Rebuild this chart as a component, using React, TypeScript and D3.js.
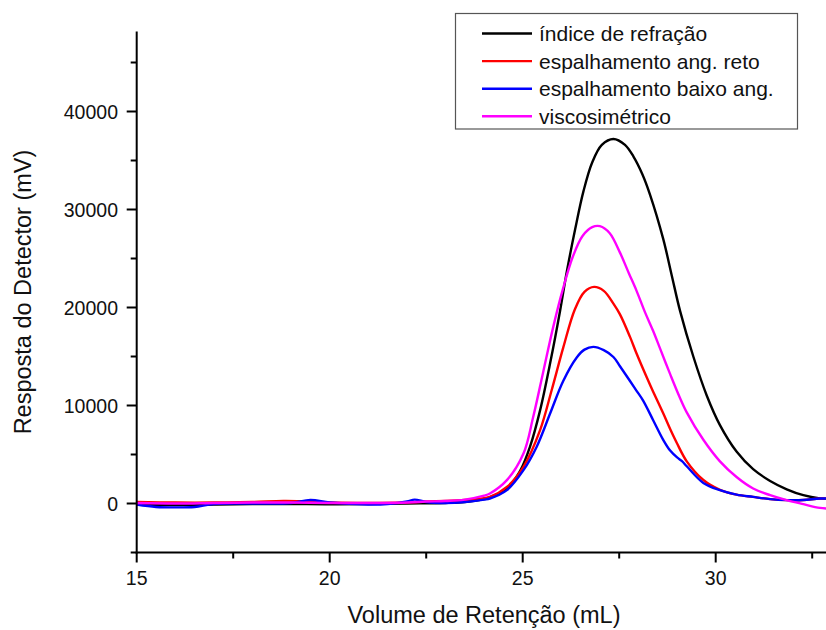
import React from "react";
import * as d3 from "d3";

const xMajorTicks = [15, 20, 25, 30];
const xMinorTicks = [17.5, 22.5, 27.5, 32.5];
const yMajorTicks = [0, 10000, 20000, 30000, 40000];
const yMinorTicks = [-5000, 5000, 15000, 25000, 35000, 45000];

const seriesNames = ["índice de refração", "espalhamento ang. reto", "espalhamento baixo ang.", "viscosimétrico"];
const seriesColors = ["#000000", "#ff0000", "#0000ff", "#ff00ff"];

const riX = [15, 16, 17, 18, 19, 20, 21, 22, 23, 23.5, 24, 24.15, 24.59, 24.93, 25.19, 25.45, 25.71, 25.97, 26.14, 26.36, 26.57, 26.8, 27.05, 27.35, 27.65, 27.87, 28.1, 28.3, 28.64, 28.86, 29.08, 29.42, 29.77, 30.11, 30.54, 30.97, 31.41, 31.84, 32.27, 32.7, 33];
const riY = [-100, -150, -100, -50, -50, -80, -50, 0, 50, 150, 450, 650, 1500, 3300, 5800, 9500, 14300, 19700, 23600, 28000, 31800, 34800, 36600, 37200, 36600, 35400, 33600, 31500, 27000, 23300, 19600, 15000, 11000, 8000, 5300, 3500, 2300, 1450, 850, 520, 450];

const raX = [15, 16, 17, 18, 18.8, 19.5, 20, 21, 22, 22.5, 23, 23.5, 24, 24.15, 24.59, 25.02, 25.45, 25.75, 26.05, 26.35, 26.6, 26.85, 27.1, 27.35, 27.52, 27.78, 27.95, 28.21, 28.38, 28.64, 28.82, 28.99, 29.25, 29.68, 30.11, 30.54, 30.97, 31.41, 31.84, 32.27, 32.7, 33];
const raY = [150, 100, 100, 150, 250, 200, 100, 50, 100, 200, 250, 350, 550, 670, 1690, 3735, 7480, 11560, 15900, 19800, 21600, 22100, 21700, 20400, 19300, 17000, 15300, 12900, 11400, 9200, 7600, 6200, 4300, 2400, 1400, 900, 670, 450, 340, 350, 510, 500];

const lbX = [15, 15.5, 16, 16.5, 17, 18, 19, 19.5, 20, 21, 21.5, 22, 22.2, 22.5, 23, 23.5, 24, 24.15, 24.59, 25.02, 25.36, 25.71, 26.05, 26.4, 26.6, 26.83, 27.1, 27.35, 27.52, 27.78, 27.95, 28.12, 28.38, 28.64, 28.82, 29.0, 29.12, 29.25, 29.68, 30.11, 30.54, 30.97, 31.41, 31.84, 32.27, 32.7, 33];
const lbY = [-100, -350, -400, -350, -50, 0, 50, 350, 100, -100, -50, 200, 400, 150, 50, 150, 400, 510, 1360, 3400, 5775, 9180, 12500, 14900, 15700, 15980, 15650, 14950, 14000, 12500, 11500, 10500, 8500, 6500, 5400, 4700, 4350, 3800, 2100, 1360, 900, 670, 450, 340, 350, 510, 500];

const vsX = [15, 16, 17, 18, 19, 20, 21, 22, 22.5, 23, 23.5, 24, 24.15, 24.59, 25.02, 25.27, 25.53, 25.79, 26.05, 26.3, 26.55, 26.8, 27.0, 27.25, 27.52, 27.75, 27.95, 28.17, 28.38, 28.56, 28.82, 29.05, 29.25, 29.68, 30.11, 30.54, 30.97, 31.41, 31.84, 32.27, 32.7, 33];
const vsY = [50, 0, 50, 100, 100, 50, 50, 100, 200, 250, 400, 800, 1020, 2380, 5100, 8800, 13400, 18000, 22000, 25200, 27300, 28200, 28300, 27600, 25600, 23500, 21700, 19500, 17600, 15800, 13200, 11000, 9300, 6500, 4300, 2700, 1530, 850, 340, -70, -450, -550];

const seriesX = [riX, raX, lbX, vsX];
const seriesY = [riY, raY, lbY, vsY];

const W = 826;
const H = 630;
const left = 136.7;
const bottom = 552.5;
const top = 31.5;

export default function App() {
  const x = d3.scaleLinear().domain([15, 33]).range([left, left + 18 * 38.6]);
  const y = d3.scaleLinear().domain([-5000, 48000]).range([bottom, bottom - 53 * 9.8]);
  const line = d3
    .line<[number, number]>()
    .x((d) => x(d[0]))
    .y((d) => y(d[1]))
    .curve(d3.curveCatmullRom.alpha(0.5));

  const font = "'Liberation Sans', Arial, sans-serif";

  return (
    <svg
      width={W}
      height={H}
      style={{ position: "absolute", left: 0, top: 0, background: "#fff" }}
      fontFamily={font}
    >
      <defs>
        <clipPath id="plot">
          <rect x={left} y={top} width={W - left} height={bottom - top} />
        </clipPath>
      </defs>
      <g clipPath="url(#plot)">
        {seriesX.map((xs, i) => (
          <path
            key={i}
            d={line(xs.map((v, j) => [v, seriesY[i][j]] as [number, number])) || ""}
            fill="none"
            stroke={seriesColors[i]}
            strokeWidth={2.4}
            strokeLinejoin="round"
          />
        ))}
      </g>
      {/* axes */}
      <line x1={left} x2={left} y1={top} y2={bottom + 1} stroke="#000" strokeWidth={2} />
      <line x1={left - 1} x2={W} y1={bottom} y2={bottom} stroke="#000" strokeWidth={2} />
      {xMajorTicks.map((t) => (
        <g key={"xm" + t}>
          <line x1={x(t)} x2={x(t)} y1={bottom} y2={bottom + 10} stroke="#000" strokeWidth={2} />
          <text x={x(t)} y={585} textAnchor="middle" fontSize={19.5} fill="#111">
            {t}
          </text>
        </g>
      ))}
      {xMinorTicks.map((t) => (
        <line key={"xn" + t} x1={x(t)} x2={x(t)} y1={bottom} y2={bottom + 6} stroke="#000" strokeWidth={2} />
      ))}
      {yMajorTicks.map((t) => (
        <g key={"ym" + t}>
          <line x1={left - 10} x2={left} y1={y(t)} y2={y(t)} stroke="#000" strokeWidth={2} />
          <text x={118} y={y(t) + 7} textAnchor="end" fontSize={19.5} fill="#111">
            {t}
          </text>
        </g>
      ))}
      {yMinorTicks.map((t) => (
        <line key={"yn" + t} x1={left - 6} x2={left} y1={y(t)} y2={y(t)} stroke="#000" strokeWidth={2} />
      ))}
      <text x={484} y={623} textAnchor="middle" fontSize={23.5} fill="#111">
        Volume de Retenção (mL)
      </text>
      <text transform="translate(31,292) rotate(-90)" textAnchor="middle" fontSize={23.5} fill="#111">
        Resposta do Detector (mV)
      </text>
      {/* legend */}
      <rect x={455.5} y={13.5} width={342} height={115.5} fill="#fff" stroke="#555" strokeWidth={1.2} />
      {seriesNames.map((n, i) => (
        <g key={n}>
          <line x1={482} x2={532} y1={33.5 + i * 27.6} y2={33.5 + i * 27.6} stroke={seriesColors[i]} strokeWidth={2.4} />
          <text x={539} y={33.5 + i * 27.6 + 7.5} fontSize={21} fill="#111">
            {n}
          </text>
        </g>
      ))}
    </svg>
  );
}
